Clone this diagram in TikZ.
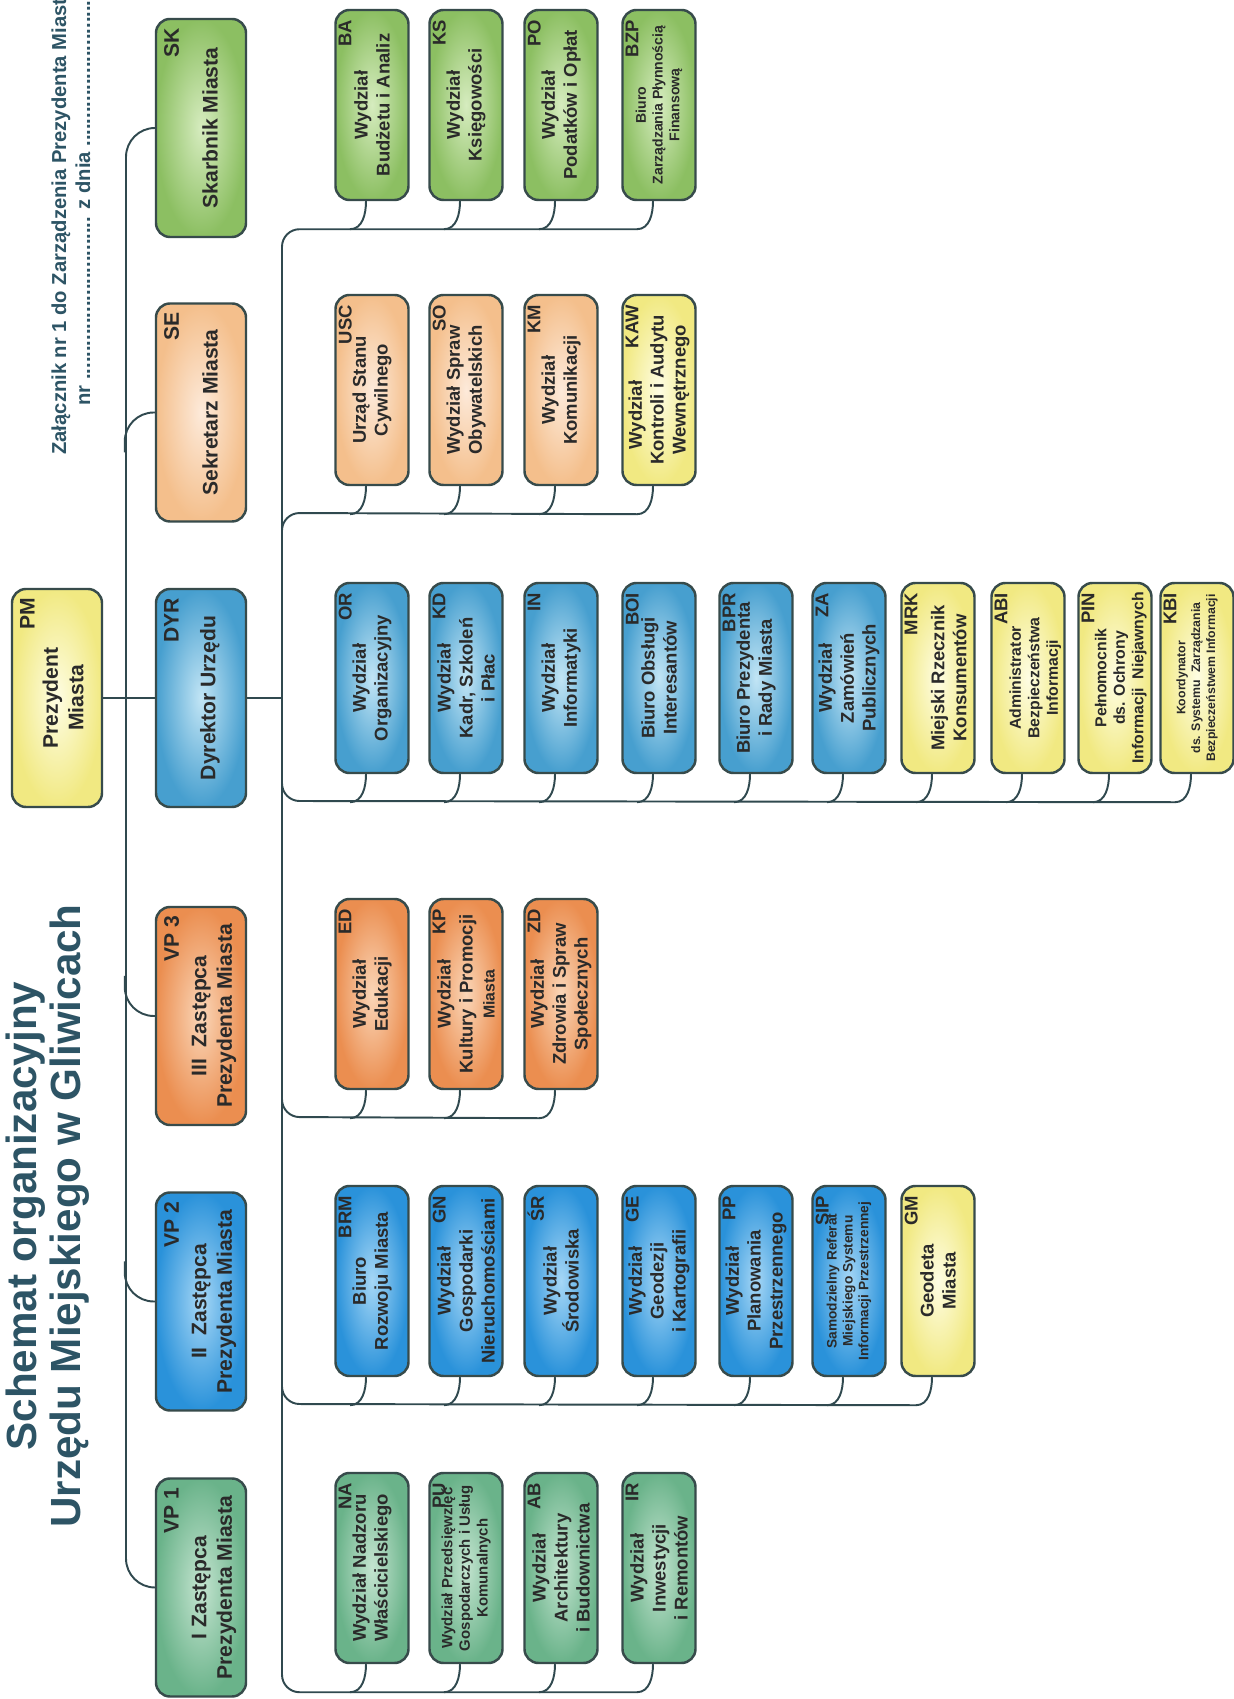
\documentclass[tikz,border=0pt]{standalone}
\usepackage{fontspec}
\setmainfont{Liberation Sans}
\usetikzlibrary{calc}
\definecolor{boxline}{HTML}{374B4B}
\definecolor{wire}{HTML}{30494F}
\definecolor{ink}{HTML}{2A2A2A}
\definecolor{headink}{HTML}{2D5465}
\definecolor{greenout}{HTML}{8CBF62}
\definecolor{greenin}{HTML}{D6ECBF}
\definecolor{tealout}{HTML}{6AB38A}
\definecolor{tealin}{HTML}{C4E4D0}
\definecolor{peachout}{HTML}{F4BF8C}
\definecolor{peachin}{HTML}{FDEADA}
\definecolor{orangeout}{HTML}{EB8E50}
\definecolor{orangein}{HTML}{FAD6B8}
\definecolor{blueout}{HTML}{479FCF}
\definecolor{bluein}{HTML}{C2E5F5}
\definecolor{skyout}{HTML}{2A92DA}
\definecolor{skyin}{HTML}{A6D7F6}
\definecolor{yellowout}{HTML}{F1E982}
\definecolor{yellowin}{HTML}{FEFDE3}

\begin{document}
\begin{tikzpicture}[x=0.2mm,y=0.2mm,
  box/.style={draw=boxline,line width=1.4pt,rounded corners=2.8mm,minimum width=38mm,minimum height=14.6mm,inner sep=0.5mm,align=center,text=ink,font=\bfseries\fontsize{10.5}{12.5}\selectfont},
  chief/.style={box,minimum width=43.6mm,minimum height=18mm},
  headtext/.style={inner sep=0,align=center,text=ink,font=\bfseries\fontsize{12}{14.5}\selectfont},
  code/.style={anchor=north east,inner sep=0,text=ink,font=\bfseries\fontsize{10.5}{12}\selectfont},
  headcode/.style={code,font=\bfseries\fontsize{12}{14}\selectfont},
  link/.style={draw=wire,line width=1.1pt},
  annex/.style={anchor=west,inner sep=0,text=headink,font=\bfseries\fontsize{11.5}{13}\selectfont},
  heading/.style={inner sep=0,align=center,text=headink,font=\bfseries\fontsize{24}{25}\selectfont},
  shgreen/.style={inner color=greenin,outer color=greenout},
  shteal/.style={inner color=tealin,outer color=tealout},
  shpeach/.style={inner color=peachin,outer color=peachout},
  shorange/.style={inner color=orangein,outer color=orangeout},
  shblue/.style={inner color=bluein,outer color=blueout},
  shsky/.style={inner color=skyin,outer color=skyout},
  shyellow/.style={inner color=yellowin,outer color=yellowout}]
  \useasboundingbox (0,0) rectangle (1234,1699);
  \fill[white] (0,0) rectangle (1234,1699);
  \clip (0,0) rectangle (1234,1699);
  \begin{scope}[rotate=90,transform shape]

  \node[annex] (zal) at (1244,-61) {Załącznik nr 1 do Zarządzenia Prezydenta Miasta};
  \node[annex] (zalnr) at (1293,-83) {nr ............................. z dnia ..............................};
  \node[heading] (title) at (483,-47.5) {Schemat organizacyjny\\Urzędu Miejskiego w Gliwicach};

  \node[chief,shyellow] (PM) at (1001,-57) {};
  \node[headtext] (PMt) at ($(PM)+(0,-6)$) {Prezydent\\Miasta};
  \node[headcode] (PMc) at ($(PM.north east)+(-10,-9)$) {PM};

  \node[chief,shgreen] (SK) at (1571,-201) {};
  \node[headtext] (SKt) at ($(SK)+(0,-9)$) {Skarbnik Miasta};
  \node[headcode] (SKc) at ($(SK.north east)+(-10,-9)$) {SK};
  \node[chief,shpeach] (SE) at (1286.5,-201) {};
  \node[headtext] (SEt) at ($(SE)+(0,-9)$) {Sekretarz Miasta};
  \node[headcode] (SEc) at ($(SE.north east)+(-10,-9)$) {SE};
  \node[chief,shblue] (DYR) at (1001,-201) {};
  \node[headtext] (DYRt) at ($(DYR)+(0,-9)$) {Dyrektor Urzędu};
  \node[headcode] (DYRc) at ($(DYR.north east)+(-10,-9)$) {DYR};
  \node[chief,shorange] (VP3) at (683,-201) {};
  \node[headtext] (VP3t) at ($(VP3)+(0,-13)$) {III\ \ Zastępca\\Prezydenta Miasta};
  \node[headcode] (VP3c) at ($(VP3.north east)+(-10,-9)$) {VP 3};
  \node[chief,shsky] (VP2) at (397.5,-201) {};
  \node[headtext] (VP2t) at ($(VP2)+(0,-13)$) {II\ \ Zastępca\\Prezydenta Miasta};
  \node[headcode] (VP2c) at ($(VP2.north east)+(-10,-9)$) {VP 2};
  \node[chief,shteal] (VP1) at (111.5,-201) {};
  \node[headtext] (VP1t) at ($(VP1)+(0,-13)$) {I Zastępca\\Prezydenta Miasta};
  \node[headcode] (VP1c) at ($(VP1.north east)+(-10,-9)$) {VP 1};

  \node[box,shgreen] (BA) at (1594,-372) {Wydział\\Budżetu i Analiz};
  \node[code] (BAc) at ($(BA.north east)+(-11,-4)$) {BA};
  \node[box,shgreen] (KS) at (1594,-466) {Wydział\\Księgowości};
  \node[code] (KSc) at ($(KS.north east)+(-11,-4)$) {KS};
  \node[box,shgreen] (PO) at (1594,-561) {Wydział\\Podatków i Opłat};
  \node[code] (POc) at ($(PO.north east)+(-11,-4)$) {PO};
  \node[box,shgreen,font=\bfseries\fontsize{8}{9.5}\selectfont] (BZP) at (1594,-659) {Biuro\\Zarządzania Płynnością\\Finansową};
  \node[code] (BZPc) at ($(BZP.north east)+(-11,-4)$) {BZP};

  \node[box,shpeach] (USC) at (1309,-372) {Urząd Stanu\\Cywilnego};
  \node[code] (USCc) at ($(USC.north east)+(-11,-4)$) {USC};
  \node[box,shpeach] (SO) at (1309,-466) {Wydział Spraw\\Obywatelskich};
  \node[code] (SOc) at ($(SO.north east)+(-11,-4)$) {SO};
  \node[box,shpeach] (KM) at (1309,-561) {Wydział\\Komunikacji};
  \node[code] (KMc) at ($(KM.north east)+(-11,-4)$) {KM};
  \node[box,shyellow] (KAW) at (1309,-659) {Wydział\hspace*{10mm}\\Kontroli i Audytu\\Wewnętrznego};
  \node[code] (KAWc) at ($(KAW.north east)+(-11,-4)$) {KAW};

  \node[box,shblue] (OR) at (1021,-372) {Wydział\\Organizacyjny};
  \node[code] (ORc) at ($(OR.north east)+(-11,-4)$) {OR};
  \node[box,shblue] (KD) at (1021,-466) {Wydział\\Kadr, Szkoleń\\i Płac};
  \node[code] (KDc) at ($(KD.north east)+(-11,-4)$) {KD};
  \node[box,shblue] (IN) at (1021,-561) {Wydział\\Informatyki};
  \node[code] (INc) at ($(IN.north east)+(-11,-4)$) {IN};
  \node[box,shblue] (BOI) at (1021,-659) {Biuro Obsługi\\Interesantów};
  \node[code] (BOIc) at ($(BOI.north east)+(-11,-4)$) {BOI};
  \node[box,shblue] (BPR) at (1021,-756) {Biuro Prezydenta\\i Rady Miasta};
  \node[code] (BPRc) at ($(BPR.north east)+(-11,-4)$) {BPR};
  \node[box,shblue] (ZA) at (1021,-849) {Wydział\\Zamówień\\Publicznych};
  \node[code] (ZAc) at ($(ZA.north east)+(-11,-4)$) {ZA};
  \node[box,shyellow] (MRK) at (1021,-938) {\rule{0pt}{7mm}Miejski Rzecznik\\Konsumentów};
  \node[code] (MRKc) at ($(MRK.north east)+(-11,-4)$) {MRK};
  \node[box,shyellow,font=\bfseries\fontsize{9}{10.5}\selectfont] (ABI) at (1021,-1028) {\rule{0pt}{5.2mm}Administrator\\Bezpieczeństwa\\Informacji};
  \node[code] (ABIc) at ($(ABI.north east)+(-11,-4)$) {ABI};
  \node[box,shyellow,font=\bfseries\fontsize{9}{10.5}\selectfont] (PIN) at (1021,-1115) {\rule{0pt}{4.6mm}Pełnomocnik\\ds. Ochrony\\Informacji\ \ Niejawnych};
  \node[code] (PINc) at ($(PIN.north east)+(-11,-4)$) {PIN};
  \node[box,shyellow,font=\bfseries\fontsize{7}{8.5}\selectfont] (KBI) at (1021,-1197) {Koordynator\\ds. Systemu\ \ Zarządzania\\Bezpieczeństwem Informacji};
  \node[code] (KBIc) at ($(KBI.north east)+(-11,-4)$) {KBI};

  \node[box,shorange] (ED) at (705,-372) {Wydział\\Edukacji};
  \node[code] (EDc) at ($(ED.north east)+(-11,-4)$) {ED};
  \node[box,shorange] (KP) at (705,-466) {Wydział\\Kultury i Promocji\\{\fontsize{9}{10}\selectfont Miasta}};
  \node[code] (KPc) at ($(KP.north east)+(-11,-4)$) {KP};
  \node[box,shorange] (ZD) at (705,-561) {Wydział\\Zdrowia i Spraw\\Społecznych};
  \node[code] (ZDc) at ($(ZD.north east)+(-11,-4)$) {ZD};

  \node[box,shsky] (BRM) at (418,-372) {Biuro\\Rozwoju Miasta};
  \node[code] (BRMc) at ($(BRM.north east)+(-11,-4)$) {BRM};
  \node[box,shsky] (GN) at (418,-466) {Wydział\\Gospodarki\\Nieruchomościami};
  \node[code] (GNc) at ($(GN.north east)+(-11,-4)$) {GN};
  \node[box,shsky] (SR) at (418,-561) {Wydział\\Środowiska};
  \node[code] (SRc) at ($(SR.north east)+(-11,-4)$) {ŚR};
  \node[box,shsky] (GE) at (418,-659) {Wydział\\Geodezji\\i Kartografii};
  \node[code] (GEc) at ($(GE.north east)+(-11,-4)$) {GE};
  \node[box,shsky] (PP) at (418,-756) {Wydział\\Planowania\\Przestrzennego};
  \node[code] (PPc) at ($(PP.north east)+(-11,-4)$) {PP};
  \node[box,shsky,font=\bfseries\fontsize{7.8}{9}\selectfont] (SIP) at (418,-849) {Samodzielny Referat\\Miejskiego Systemu\\Informacji Przestrzennej};
  \node[code] (SIPc) at ($(SIP.north east)+(-11,-4)$) {SIP};
  \node[box,shyellow] (GM) at (418,-938) {Geodeta\\Miasta};
  \node[code] (GMc) at ($(GM.north east)+(-11,-4)$) {GM};

  \node[box,shteal] (NA) at (131,-372) {Wydział Nadzoru\\Właścicielskiego};
  \node[code] (NAc) at ($(NA.north east)+(-11,-4)$) {NA};
  \node[box,shteal,font=\bfseries\fontsize{8.5}{10}\selectfont] (PU) at (131,-466) {Wydział Przedsięwzięć\\Gospodarczych i Usług\\Komunalnych};
  \node[code] (PUc) at ($(PU.north east)+(-11,-4)$) {PU};
  \node[box,shteal] (AB) at (131,-561) {Wydział\\Architektury\\i Budownictwa};
  \node[code] (ABc) at ($(AB.north east)+(-11,-4)$) {AB};
  \node[box,shteal] (IR) at (131,-659) {Wydział\\Inwestycji\\i Remontów};
  \node[code] (IRc) at ($(IR.north east)+(-11,-4)$) {IR};

  \coordinate (bar) at (1001,-126);
  \coordinate (bus2) at (1001,-282);
  \coordinate (colSE) at (1186,-282);
  \coordinate (colDYR) at (898,-282);
  \coordinate (colVP3) at (582,-282);
  \coordinate (colVP2) at (295,-282);

  \draw[link,rounded corners=5.8mm] (SK.north) |- (bar) -| (VP1.north);
  \draw[link,rounded corners=5.8mm] (SE.north) -- ++(0,30) -- ++(-40,0);
  \draw[link,rounded corners=5.8mm] (VP3.north) -- ++(0,30) -- ++(40,0);
  \draw[link,rounded corners=5.8mm] (VP2.north) -- ++(0,30) -- ++(40,0);
  \draw[link] (PM.south) -- (DYR.north);
  \draw[link] (DYR.south) -- (bus2);

  \draw[link,rounded corners=3.5mm] ($(BZP.west)+(-28,22)$) |- (bus2) -| ($(IR.west)+(-28,22)$);
  \draw[link,rounded corners=3.5mm] ($(KAW.west)+(-28,22)$) -- (colSE) -- ++(-40,0);
  \draw[link,rounded corners=3.5mm] ($(KBI.west)+(-28,22)$) -- (colDYR) -- ++(40,0);
  \draw[link,rounded corners=3.5mm] ($(ZD.west)+(-28,22)$) -- (colVP3) -- ++(40,0);
  \draw[link,rounded corners=3.5mm] ($(GM.west)+(-28,22)$) -- (colVP2) -- ++(40,0);

  \draw[link] ($(BA.west)+(0,6)$) to[out=180,in=-90] ++(-28,16);
  \draw[link] ($(KS.west)+(0,6)$) to[out=180,in=-90] ++(-28,16);
  \draw[link] ($(PO.west)+(0,6)$) to[out=180,in=-90] ++(-28,16);
  \draw[link] ($(BZP.west)+(0,6)$) to[out=180,in=-90] ++(-28,16);
  \draw[link] ($(USC.west)+(0,6)$) to[out=180,in=-90] ++(-28,16);
  \draw[link] ($(SO.west)+(0,6)$) to[out=180,in=-90] ++(-28,16);
  \draw[link] ($(KM.west)+(0,6)$) to[out=180,in=-90] ++(-28,16);
  \draw[link] ($(KAW.west)+(0,6)$) to[out=180,in=-90] ++(-28,16);
  \draw[link] ($(OR.west)+(0,6)$) to[out=180,in=-90] ++(-28,16);
  \draw[link] ($(KD.west)+(0,6)$) to[out=180,in=-90] ++(-28,16);
  \draw[link] ($(IN.west)+(0,6)$) to[out=180,in=-90] ++(-28,16);
  \draw[link] ($(BOI.west)+(0,6)$) to[out=180,in=-90] ++(-28,16);
  \draw[link] ($(BPR.west)+(0,6)$) to[out=180,in=-90] ++(-28,16);
  \draw[link] ($(ZA.west)+(0,6)$) to[out=180,in=-90] ++(-28,16);
  \draw[link] ($(MRK.west)+(0,6)$) to[out=180,in=-90] ++(-28,16);
  \draw[link] ($(ABI.west)+(0,6)$) to[out=180,in=-90] ++(-28,16);
  \draw[link] ($(PIN.west)+(0,6)$) to[out=180,in=-90] ++(-28,16);
  \draw[link] ($(KBI.west)+(0,6)$) to[out=180,in=-90] ++(-28,16);
  \draw[link] ($(ED.west)+(0,6)$) to[out=180,in=-90] ++(-28,16);
  \draw[link] ($(KP.west)+(0,6)$) to[out=180,in=-90] ++(-28,16);
  \draw[link] ($(ZD.west)+(0,6)$) to[out=180,in=-90] ++(-28,16);
  \draw[link] ($(BRM.west)+(0,6)$) to[out=180,in=-90] ++(-28,16);
  \draw[link] ($(GN.west)+(0,6)$) to[out=180,in=-90] ++(-28,16);
  \draw[link] ($(SR.west)+(0,6)$) to[out=180,in=-90] ++(-28,16);
  \draw[link] ($(GE.west)+(0,6)$) to[out=180,in=-90] ++(-28,16);
  \draw[link] ($(PP.west)+(0,6)$) to[out=180,in=-90] ++(-28,16);
  \draw[link] ($(SIP.west)+(0,6)$) to[out=180,in=-90] ++(-28,16);
  \draw[link] ($(GM.west)+(0,6)$) to[out=180,in=-90] ++(-28,16);
  \draw[link] ($(NA.west)+(0,6)$) to[out=180,in=-90] ++(-28,16);
  \draw[link] ($(PU.west)+(0,6)$) to[out=180,in=-90] ++(-28,16);
  \draw[link] ($(AB.west)+(0,6)$) to[out=180,in=-90] ++(-28,16);
  \draw[link] ($(IR.west)+(0,6)$) to[out=180,in=-90] ++(-28,16);

  \end{scope}
\end{tikzpicture}
\end{document}
